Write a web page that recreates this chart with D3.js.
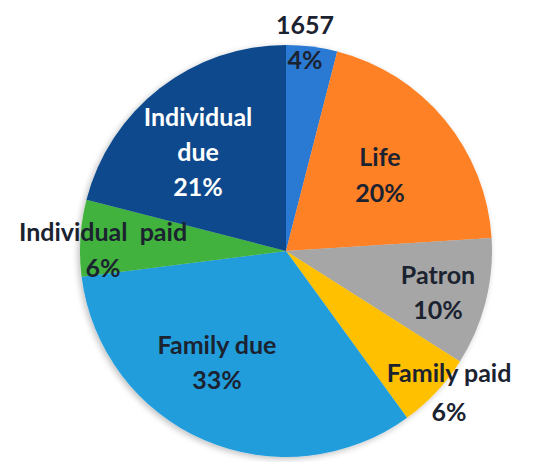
<!DOCTYPE html>
<html><head><meta charset="utf-8">
<script src="https://cdn.jsdelivr.net/npm/d3@7"></script>
<style>html,body{margin:0;padding:0;background:#fff;}svg{display:block;}</style>
</head><body>
<svg id="chart" width="536" height="462"></svg>
<script>
const categories = ["1657", "Life", "Patron", "Family paid", "Family due", "Individual  paid", "Individual due"];
const values = [4, 20, 10, 6, 33, 6, 21];
const labelLines = [["1657", "4%"], ["Life", "20%"], ["Patron", "10%"], ["Family paid", "6%"], ["Family due", "33%"], ["Individual  paid", "6%"], ["Individual", "due", "21%"]];
const colors = ["#2b79d3", "#ff8126", "#a6a6a6", "#ffc000", "#209ddc", "#3fb23c", "#0a4a8c"];

const svg = d3.select("#chart");
const cx = 286, cy = 251, R = 206;
const g = svg.append("g").attr("transform", `translate(${cx},${cy})`);

const pie = d3.pie().sort(null).value(d => d);
const arcs = pie(values);
const arc = d3.arc().innerRadius(0).outerRadius(R);
const color = d3.scaleOrdinal().domain(categories).range(colors);

const defs = svg.append("defs");
const f = defs.append("filter").attr("id", "sh").attr("x", "-20%").attr("y", "-20%").attr("width", "140%").attr("height", "140%");
f.append("feGaussianBlur").attr("in", "SourceAlpha").attr("stdDeviation", 3);
f.append("feOffset").attr("dx", -2).attr("dy", 2).attr("result", "b");
f.append("feComponentTransfer").append("feFuncA").attr("type", "linear").attr("slope", 0.25);
const m = f.append("feMerge"); m.append("feMergeNode"); m.append("feMergeNode").attr("in", "SourceGraphic");

const slices = g.append("g").attr("filter", "url(#sh)");
slices.selectAll("path").data(arcs).join("path")
  .attr("d", arc)
  .attr("fill", (d, i) => color(categories[i]));

// label anchor offsets from centre [x, y of first line, line height]
const labelPos = [[19, -226, 35], [94, -94, 36], [152, 24, 35], [163, 122, 39], [-69, 94, 35], [-183, -19, 36], [-88, -134, 35]];
const textColors = ["#1b2230", "#1b2230", "#1b2230", "#1b2230", "#1b2230", "#1b2230", "#ffffff"];

const labels = g.append("g").selectAll("text").data(arcs).join("text")
  .attr("text-anchor", "middle")
  .attr("font-family", "Lato, 'Open Sans', sans-serif")
  .attr("font-weight", "bold")
  .attr("font-size", 25)
  .attr("fill", (d, i) => textColors[i])
  .style("white-space", "pre");
labels.each(function(d, i) {
  const [x, y, lh] = labelPos[i];
  const t = d3.select(this);
  labelLines[i].forEach((ln, k) => {
    t.append("tspan").attr("x", x).attr("y", y + k * lh).attr("dy", "0.35em").text(ln);
  });
});
</script>
</body></html>
